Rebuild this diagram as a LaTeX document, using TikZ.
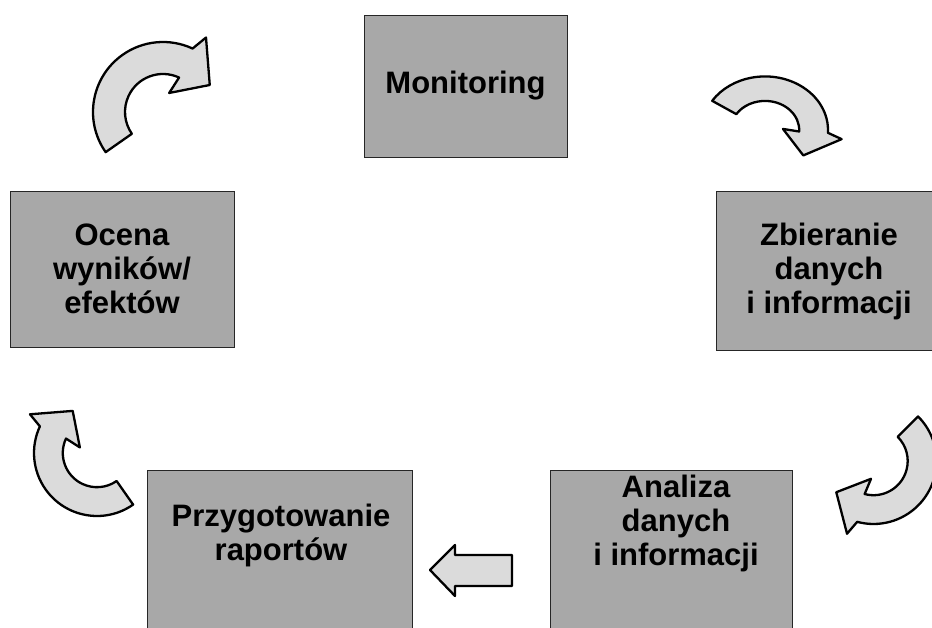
\documentclass[tikz,border=0pt]{standalone}
\usepackage{fontspec}
\setmainfont{Liberation Sans}

\definecolor{panelgray}{gray}{0.66}
\definecolor{arrowgray}{gray}{0.86}

% curved block arrow: centre, squash, rotation, scale
\newcommand{\bentarrow}[4]{%
 \begin{scope}[shift={#1},yscale=#2,rotate=#3,scale=#4]
  \draw[turn] (215:70) arc[start angle=215,end angle=65,radius=70]
   -- (60:86) -- (30:54) -- (72:20) -- (65:38)
   arc[start angle=65,end angle=215,radius=38] -- cycle;
 \end{scope}}

\begin{document}
\begin{tikzpicture}[
 x=1pt,y=1pt,
 panel/.style={draw=black!85,line width=.8pt,fill=panelgray,inner sep=0pt},
 caption/.style={align=center,inner sep=0pt,font=\bfseries\fontsize{31}{34}\selectfont},
 turn/.style={draw=black,line width=2.3pt,fill=arrowgray,line join=round}]
 \useasboundingbox (0,0) rectangle (932,628);
 \clip (0,0) rectangle (932,628);
 % five stages of the cycle
 \node[panel,minimum width=203pt,minimum height=142pt] (mon) at (465.5,542) {};
 \node[caption] (mon-t) at (mon) {Monitoring};
 \node[panel,minimum width=226pt,minimum height=159pt] (zbi) at (829,357) {};
 \node[caption] (zbi-t) at (zbi) {Zbieranie\\danych\\i informacji};
 \node[panel,minimum width=242pt,minimum height=170pt] (ana) at (671,73) {};
 \node[caption] (ana-t) at (676,105) {Analiza\\danych\\i informacji};
 \node[panel,minimum width=265pt,minimum height=170pt] (prz) at (279.5,73) {};
 \node[caption] (prz-t) at (281,93) {Przygotowanie\\raportów};
 \node[panel,minimum width=224pt,minimum height=156pt] (oce) at (122,359) {};
 \node[caption] (oce-t) at (oce) {Ocena\\wyników/\\efektów};
 % arrows between the stages
 \bentarrow{(163,516)}{1}{0}{1}
 \bentarrow{(765,498)}{.85}{-68}{.9}
 \bentarrow{(873.5,167)}{1}{-170}{.9}
 \bentarrow{(97,175)}{1}{90}{.9}
 \draw[turn] (512,73) -- (455,73) -- (455,83) -- (430,58) -- (455,32)
  -- (455,42) -- (512,42) -- cycle;
\end{tikzpicture}
\end{document}
